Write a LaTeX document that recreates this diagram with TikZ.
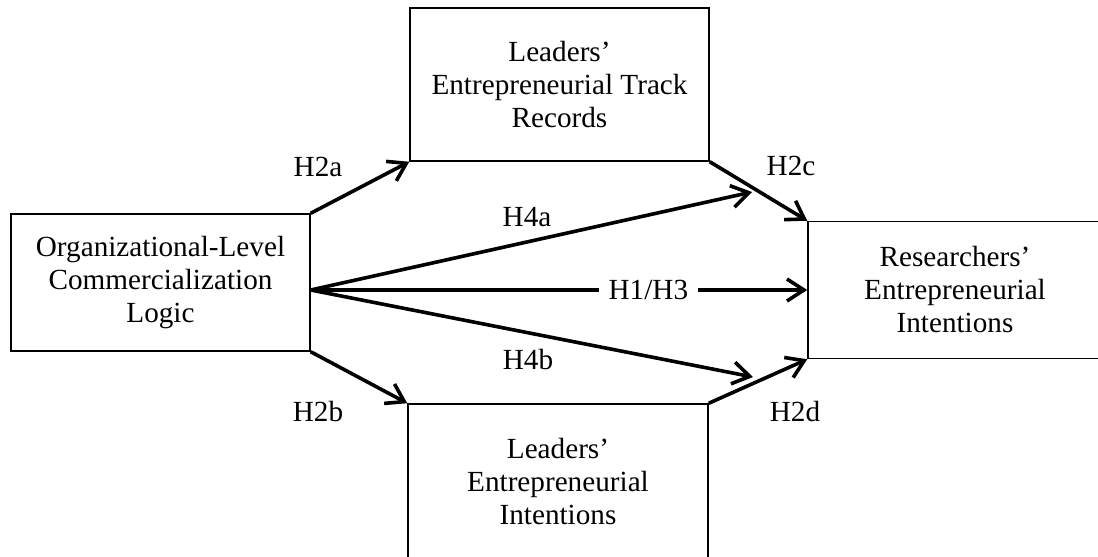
\documentclass[tikz,border=0pt]{standalone}
\usepackage{fontspec}
\setmainfont{Liberation Serif}
\usetikzlibrary{arrows.meta}

\begin{document}
\begin{tikzpicture}[x = 0.5pt, y = -0.5pt,
		box/.style = {draw, line width = 0.75pt, align = center, inner sep = 0pt, font = \fontsize{14.6}{16.5}\selectfont},
		link/.style = {line width = 1.8pt, -{Straight Barb[length = 8.5pt, width = 11pt, line width = 1.8pt]}},
		hyp/.style = {font = \fontsize{14.6}{16.5}\selectfont, inner sep = 0pt}]
		%\draw[gray, dotted] (0, 0) grid[step = 100] (1098, 557);
		\useasboundingbox (0, 0) rectangle (1098, 557);
		\node[box, minimum width = 149.5pt, minimum height = 68.5pt] (logic) at (160.5, 282.5) {Organizational-Level\\Commercialization\\Logic};
		\node[box, minimum width = 149.5pt, minimum height = 76.5pt] (track) at (559.5, 84.5) {Leaders’\\Entrepreneurial Track\\Records};
		\node[box, minimum width = 150pt, minimum height = 78pt] (lint) at (558, 482) {Leaders’\\Entrepreneurial\\Intentions};
		\node[box, minimum width = 147pt, minimum height = 68.5pt] (rint) at (955, 290) {Researchers’\\Entrepreneurial\\Intentions};
		\coordinate (fan) at (logic.east |- rint.west);
		\coordinate (tipa) at (752, 192);
		\coordinate (tipb) at (753, 377);
		\draw[link] (logic.north east) -- (track.south west);
		\draw[link] (logic.south east) -- (lint.north west);
		\draw[link] (track.south east) -- (rint.north west);
		\draw[link] (lint.north east) -- (rint.south west);
		\draw[link] (fan) -- (tipa);
		\draw[link] (fan) -- (tipb);
		\draw[link] (fan) -- node[pos = 0.68, fill = white, hyp, inner xsep = 5pt] (h13) {H1/H3} (rint.west);
		\node[hyp] (h2a) at (318, 167) {H2a};
		\node[hyp] (h2b) at (318, 412) {H2b};
		\node[hyp] (h2c) at (791, 166) {H2c};
		\node[hyp] (h2d) at (795, 412) {H2d};
		\node[hyp] (h4a) at (527, 217) {H4a};
		\node[hyp] (h4b) at (528, 360) {H4b};
	\end{tikzpicture}
\end{document}
